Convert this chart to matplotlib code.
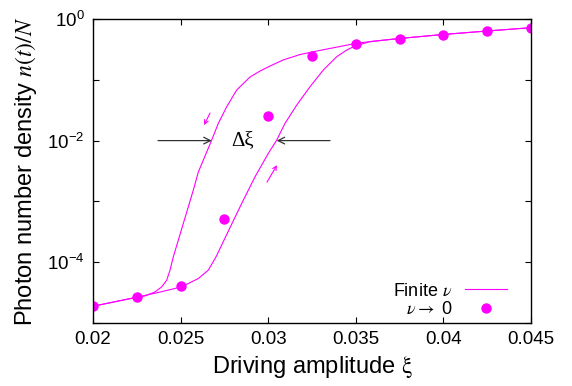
import math
import matplotlib
matplotlib.use("Agg")
import matplotlib.pyplot as plt
from matplotlib.ticker import FixedLocator, FuncFormatter

plt.rcParams['font.family'] = ['Liberation Sans', 'DejaVu Sans']
plt.rcParams['mathtext.fontset'] = 'stix'

MAGENTA = '#ff00ff'

# upper branch (sweeping xi down)
xi_down = [0.02000, 0.02250, 0.022968, 0.023539, 0.023921, 0.024207, 0.024395,
           0.024583, 0.024869, 0.025154, 0.025440, 0.025725, 0.026010, 0.026296,
           0.026535, 0.026775, 0.027152, 0.027631, 0.028202, 0.028961, 0.029532,
           0.030103, 0.030845, 0.031815, 0.032500, 0.033356, 0.034098, 0.035011,
           0.036096, 0.036781, 0.037466, 0.039977, 0.042489, 0.045000]
n_down = [1.887e-5, 2.654e-5, 2.788e-5, 3.244e-5, 3.922e-5, 5.054e-5, 7.385e-5,
          1.223e-4, 2.302e-4, 4.335e-4, 8.135e-4, 1.532e-3, 3.031e-3, 4.775e-3,
          6.976e-3, 1.019e-2, 1.919e-2, 3.600e-2, 6.784e-2, 0.1110, 0.1393,
          0.1684, 0.2114, 0.2603, 0.2862, 0.3208, 0.3526, 0.3981,
          0.4343, 0.4545, 0.4775, 0.5556, 0.6345, 0.7191]

# lower branch (sweeping xi up)
xi_up = [0.02000, 0.02250, 0.023710, 0.024970, 0.025440, 0.026010, 0.026581,
         0.027021, 0.027723, 0.028487, 0.029247, 0.030006, 0.030485, 0.030959,
         0.031627, 0.032386, 0.033145, 0.033910, 0.034481, 0.034994, 0.035811,
         0.036781, 0.037466, 0.039977, 0.042489, 0.045000]
n_up = [1.887e-5, 2.654e-5, 3.171e-5, 3.878e-5, 4.461e-5, 5.390e-5, 7.385e-5,
        1.223e-4, 3.238e-4, 9.252e-4, 2.536e-3, 6.157e-3, 1.019e-2, 1.919e-2,
        3.840e-2, 7.684e-2, 0.1447, 0.2395, 0.3089, 0.3635, 0.4230,
        0.4545, 0.4775, 0.5556, 0.6345, 0.7191]

# nu -> 0 limit
xi_pts = [0.0200, 0.0225, 0.0250, 0.0275, 0.0300, 0.0325, 0.0350, 0.0375,
          0.0400, 0.0425, 0.0450]
n_pts = [1.9e-5, 2.65e-5, 4.0e-5, 5.1e-4, 2.5e-2, 0.246, 0.39, 0.474,
         0.55, 0.63, 0.72]

fig = plt.figure(figsize=(5.72, 3.86), dpi=100)
ax = fig.add_axes([0.1626, 0.1632, 0.7657, 0.7876])

ax.plot(xi_down, n_down, color=MAGENTA, lw=0.8, label=r'Finite $\nu$')
ax.plot(xi_up, n_up, color=MAGENTA, lw=0.8)
ax.plot(xi_pts, n_pts, 'o', color=MAGENTA, ms=7.5, mec='none',
        label=r'$\nu \rightarrow$ 0')

ax.set_yscale('log')
ax.set_xlim(0.02, 0.045)
ax.set_ylim(1e-5, 1)

ax.set_xticks([0.02, 0.025, 0.03, 0.035, 0.04, 0.045])
ax.set_xticklabels(['0.02', '0.025', '0.03', '0.035', '0.04', '0.045'])
ax.yaxis.set_major_locator(FixedLocator([1e-5, 1e-4, 1e-3, 1e-2, 1e-1, 1]))
ax.yaxis.set_minor_locator(FixedLocator([]))


def decade_label(v, pos):
    e = int(round(math.log10(v)))
    if e % 2 == 0:
        return r'$\mathregular{10^{%d}}$' % e
    return ''


ax.yaxis.set_major_formatter(FuncFormatter(decade_label))
ax.tick_params(direction='in', length=4, width=0.8, top=True, right=True,
               labelsize=13.5, pad=6)
for s in ax.spines.values():
    s.set_linewidth(1.0)

ax.set_xlabel(r'Driving amplitude $\mathrm{\xi}$', fontsize=17, labelpad=4)
ax.set_ylabel(r'Photon number density $n(t)/N$', fontsize=17, labelpad=6)

# width of the hysteresis loop at n/N = 1e-2
arrow_kw = dict(arrowstyle='->', color='#333333', lw=0.9,
                shrinkA=0, shrinkB=0, mutation_scale=12)
ax.annotate('', xy=(0.02678, 1e-2), xytext=(0.02371, 1e-2), arrowprops=arrow_kw)
ax.annotate('', xy=(0.03048, 1e-2), xytext=(0.03353, 1e-2), arrowprops=arrow_kw)
ax.text(0.02855, 1e-2, 'Δξ', family='Liberation Serif', fontsize=15,
        ha='center', va='center')

# sweep direction arrows
small_kw = dict(arrowstyle='->', color=MAGENTA, lw=0.8,
                shrinkA=0, shrinkB=0, mutation_scale=7)
ax.annotate('', xy=(0.02634, 1.8e-2), xytext=(0.02668, 2.84e-2), arrowprops=small_kw)
ax.annotate('', xy=(0.0305, 3.95e-3), xytext=(0.02993, 2.07e-3), arrowprops=small_kw)

ax.legend(loc='lower right', bbox_to_anchor=(0.945, 0.015), frameon=False,
          markerfirst=False, handlelength=2.3, handletextpad=0.7,
          labelspacing=0.1, borderpad=0, borderaxespad=0, fontsize=13)

fig.savefig('out.png', dpi=100)
